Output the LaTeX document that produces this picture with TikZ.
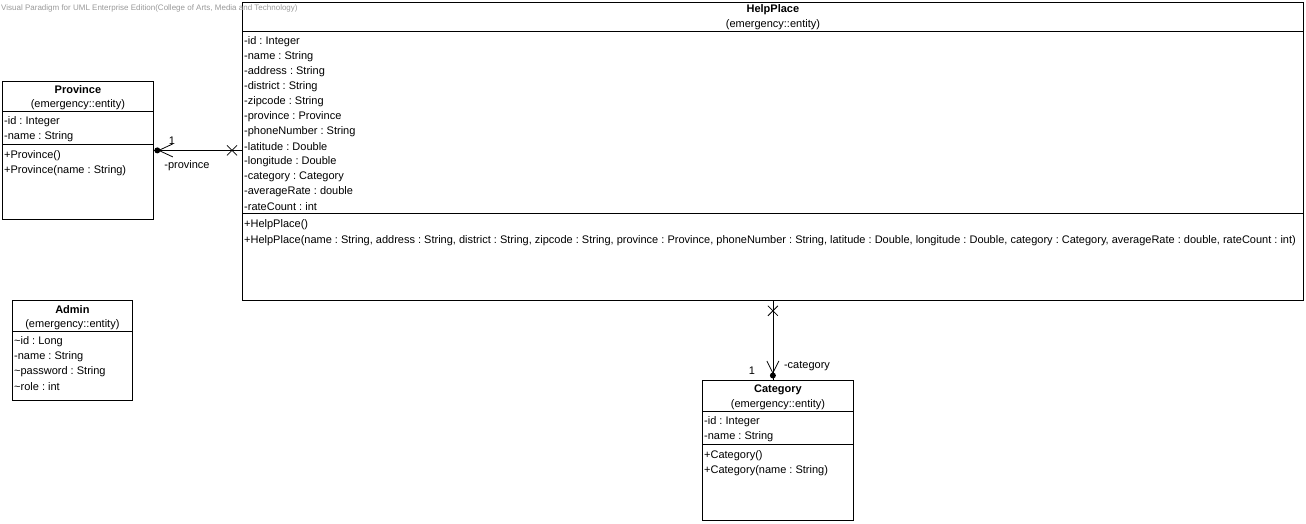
\documentclass[tikz,border=0pt]{standalone}
\usepackage{fontspec}
\setmainfont{Liberation Sans}
\frenchspacing
\begin{document}
\begin{tikzpicture}[x=1pt, y=-1pt, font=\fontsize{11}{13}\selectfont]
    \tikzstyle{classbox} = [draw, line width=0.8pt, rectangle, anchor=north west, inner sep=0pt]
    \tikzstyle{member} = [anchor=west, inner sep=0pt, yshift=-1.5pt]
    \tikzstyle{classname} = [inner sep=0pt, yshift=-1.5pt, font=\fontsize{11}{13}\selectfont\bfseries]
    \tikzstyle{stereo} = [inner sep=0pt, yshift=-1.5pt]
    \tikzstyle{sep} = [line width=0.8pt]
    \tikzstyle{assoc} = [line width=0.8pt]
    \useasboundingbox (0,0) rectangle (1306,524);
    % classes
    \node[classbox, minimum width=1061pt, minimum height=298pt] (helpplace) at (242,2) {};
    \node[classbox, minimum width=151pt, minimum height=138pt] (province) at (2,81) {};
    \node[classbox, minimum width=120pt, minimum height=100pt] (admin) at (12,300) {};
    \node[classbox, minimum width=151pt, minimum height=140pt] (category) at (702,380) {};
    % HelpPlace
    \node[classname] (helpplacename) at (helpplace.north |- 0,8) {HelpPlace};
    \node[stereo] (helpplacestereo) at (helpplace.north |- 0,23) {(emergency::entity)};
    \draw[sep] (helpplace.west |- 0,31) -- (helpplace.east |- 0,31);
    \foreach \attr [count=\i] in {-id : Integer, -name : String, -address : String,
        -district : String, -zipcode : String, -province : Province,
        -phoneNumber : String, -latitude : Double, -longitude : Double,
        -category : Category, -averageRate : double, -rateCount : int}
        \node[member] at (244,{25+15*\i}) {\attr};
    \draw[sep] (helpplace.west |- 0,213) -- (helpplace.east |- 0,213);
    \node[member] at (244,223) {+HelpPlace()};
    \node[member] at (244,239) {+HelpPlace(name : String, address : String, district : String, zipcode : String, province : Province, phoneNumber : String, latitude : Double, longitude : Double, category : Category, averageRate : double, rateCount : int)};
    % Province
    \node[classname] (provincename) at (province.north |- 0,88) {Province};
    \node[stereo] (provincestereo) at (province.north |- 0,103) {(emergency::entity)};
    \draw[sep] (province.west |- 0,111) -- (province.east |- 0,111);
    \node[member] at (4,120) {-id : Integer};
    \node[member] at (4,135) {-name : String};
    \draw[sep] (province.west |- 0,144) -- (province.east |- 0,144);
    \node[member] at (4,154) {+Province()};
    \node[member] at (4,169) {+Province(name : String)};
    % Admin
    \node[classname] (adminname) at (admin.north |- 0,308) {Admin};
    \node[stereo] (adminstereo) at (admin.north |- 0,323) {(emergency::entity)};
    \draw[sep] (admin.west |- 0,331) -- (admin.east |- 0,331);
    \foreach \attr [count=\i] in {\textasciitilde id : Long, -name : String,
        \textasciitilde password : String, \textasciitilde role : int}
        \node[member] at (14,{325+15*\i}) {\attr};
    % Category
    \node[classname] (categoryname) at (category.north |- 0,388) {Category};
    \node[stereo] (categorystereo) at (category.north |- 0,403) {(emergency::entity)};
    \draw[sep] (category.west |- 0,411) -- (category.east |- 0,411);
    \node[member] at (704,420) {-id : Integer};
    \node[member] at (704,435) {-name : String};
    \draw[sep] (category.west |- 0,444) -- (category.east |- 0,444);
    \node[member] at (704,454) {+Category()};
    \node[member] at (704,469) {+Category(name : String)};
    % HelpPlace -> Province
    \coordinate (pend) at (helpplace.west |- province.east);
    \draw[assoc] (pend) -- (province.east);
    \fill ([xshift=3.5pt]province.east) circle (3pt);
    \draw[assoc] ([xshift=19pt,yshift=6.5pt]province.east) -- ([xshift=5pt]province.east)
        -- ([xshift=19pt,yshift=-6.5pt]province.east);
    \draw[assoc] ([xshift=-15pt,yshift=5pt]pend) -- ([xshift=-5pt,yshift=-5pt]pend);
    \draw[assoc] ([xshift=-15pt,yshift=-5pt]pend) -- ([xshift=-5pt,yshift=5pt]pend);
    \node[inner sep=0pt] (provincemult) at (172,141) {1};
    \node[inner sep=0pt] (provincerole) at (187,166) {-province};
    % HelpPlace -> Category
    \coordinate (cend) at (helpplace.south |- category.north);
    \draw[assoc] (helpplace.south) -- (cend);
    \fill ([yshift=4.5pt]cend) circle (3pt);
    \draw[assoc] ([xshift=-6pt,yshift=19pt]cend) -- ([yshift=7pt]cend)
        -- ([xshift=6pt,yshift=19pt]cend);
    \draw[assoc] ([xshift=-5pt,yshift=-5pt]helpplace.south) -- ([xshift=5pt,yshift=-15pt]helpplace.south);
    \draw[assoc] ([xshift=5pt,yshift=-5pt]helpplace.south) -- ([xshift=-5pt,yshift=-15pt]helpplace.south);
    \node[inner sep=0pt] (categorymult) at (752,371) {1};
    \node[inner sep=0pt] (categoryrole) at (807,366) {-category};
    % watermark
    \node[anchor=west, inner sep=0pt, text=black!40, font=\fontsize{8}{10}\selectfont] (watermark) at (1,8.5)
        {Visual Paradigm for UML Enterprise Edition(College of Arts, Media and Technology)};
\end{tikzpicture}
\end{document}
